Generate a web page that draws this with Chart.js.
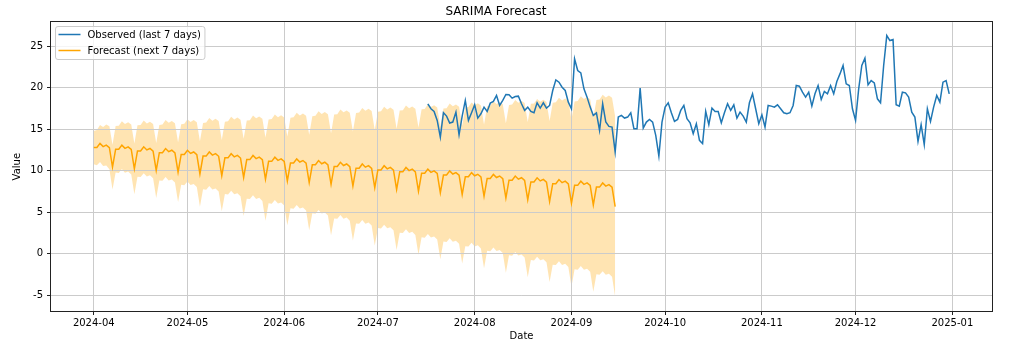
<!DOCTYPE html>
<html><head><meta charset="utf-8">
<script src="https://cdn.jsdelivr.net/npm/chart.js@4.4.1/dist/chart.umd.min.js"></script>
<style>html,body{margin:0;padding:0;background:#fff;}canvas{display:block;}</style>
</head><body>
<canvas id="c" width="1024" height="359"></canvas>
<script>
// ---- data ----
const chartTitle = 'SARIMA Forecast';
const observedLabel = 'Observed (last 7 days)';
const forecastLabel = 'Forecast (next 7 days)';
const observedStart = '2024-07-17';
const forecastStart = '2024-04-01';

const observed = [
18.07,17.47,17.15,16.07,14.06,16.99,16.59,15.75,15.87,17.07,14.34,16.59,18.47,16.07,16.99,17.95,16.35,16.87,17.67,17.15,
18.15,18.35,19.07,17.87,18.47,19.19,19.15,18.75,18.95,18.99,18.07,17.27,17.67,17.15,16.99,18.19,17.55,18.19,17.55,17.87,
19.67,20.95,20.67,20.07,19.67,18.27,17.47,23.48,22.08,21.80,19.87,18.87,17.67,16.67,16.97,14.87,18.07,15.87,15.35,15.27,
12.27,16.47,16.67,16.35,16.47,16.99,15.07,15.07,19.95,15.15,15.87,16.19,15.87,14.27,11.79,15.87,17.67,18.19,16.99,15.95,
16.19,17.27,17.87,16.27,15.79,14.47,15.67,13.67,13.27,17.15,15.55,17.55,17.15,17.15,15.79,16.99,18.07,17.27,17.95,16.35,
17.07,16.59,15.87,18.19,19.27,17.47,15.67,16.75,15.27,17.87,17.79,17.67,17.95,17.47,16.99,16.87,16.99,17.87,20.27,20.19,
19.47,18.87,19.47,17.79,19.27,20.27,18.59,19.55,19.27,20.27,19.27,20.75,21.67,22.68,20.47,20.27,17.47,16.07,19.87,22.68,
23.56,20.35,20.87,20.59,18.67,18.19,22.68,26.28,25.68,25.80,17.95,17.79,19.47,19.39,18.87,17.07,16.47,13.55,15.55,13.15,
17.47,15.95,17.67,19.07,18.27,20.67,20.87,19.27
];

const forecast = [
12.80,12.80,13.30,12.92,13.10,12.78,10.45, 12.59,12.59,13.09,12.71,12.89,12.57,10.24,
12.39,12.39,12.89,12.51,12.69,12.37,10.04, 12.18,12.18,12.68,12.30,12.48,12.16,9.83,
11.97,11.97,12.47,12.09,12.27,11.95,9.62, 11.77,11.77,12.27,11.89,12.07,11.75,9.42,
11.56,11.56,12.06,11.68,11.86,11.54,9.21, 11.35,11.35,11.85,11.47,11.65,11.33,9.00,
11.14,11.14,11.64,11.26,11.44,11.12,8.79, 10.94,10.94,11.44,11.06,11.24,10.92,8.59,
10.73,10.73,11.23,10.85,11.03,10.71,8.38, 10.52,10.52,11.02,10.64,10.82,10.50,8.17,
10.32,10.32,10.82,10.44,10.62,10.30,7.97, 10.11,10.11,10.61,10.23,10.41,10.09,7.76,
9.90,9.90,10.40,10.02,10.20,9.88,7.55, 9.70,9.70,10.20,9.82,10.00,9.68,7.35,
9.49,9.49,9.99,9.61,9.79,9.47,7.14, 9.28,9.28,9.78,9.40,9.58,9.26,6.93,
9.07,9.07,9.57,9.19,9.37,9.05,6.72, 8.87,8.87,9.37,8.99,9.17,8.85,6.52,
8.66,8.66,9.16,8.78,8.96,8.64,6.31, 8.45,8.45,8.95,8.57,8.75,8.43,6.10,
8.25,8.25,8.75,8.37,8.55,8.23,5.90, 8.04,8.04,8.54,8.16,8.34,8.02,5.69
];

const forecastUpper = [
14.80,14.92,15.53,15.27,15.57,15.36,13.15, 15.39,15.43,15.97,15.64,15.86,15.58,13.29,
15.49,15.52,16.06,15.71,15.92,15.64,13.34, 15.53,15.57,16.11,15.78,16.00,15.72,13.43,
15.62,15.67,16.22,15.89,16.12,15.85,13.57, 15.77,15.82,16.37,16.04,16.27,16.00,13.72,
15.91,15.96,16.51,16.18,16.41,16.14,13.86, 16.05,16.10,16.65,16.32,16.55,16.28,14.00,
16.19,16.24,16.79,16.46,16.69,16.42,14.14, 16.39,16.44,16.99,16.66,16.89,16.62,14.34,
16.58,16.63,17.18,16.85,17.08,16.81,14.53, 16.77,16.82,17.37,17.04,17.27,17.00,14.72,
16.97,17.02,17.57,17.24,17.47,17.20,14.92, 17.11,17.16,17.71,17.38,17.61,17.34,15.06,
17.25,17.30,17.85,17.52,17.75,17.48,15.20, 17.40,17.45,18.00,17.67,17.90,17.63,15.35,
17.49,17.54,18.09,17.76,17.99,17.72,15.44, 17.63,17.68,18.23,17.90,18.13,17.86,15.58,
17.77,17.82,18.37,18.04,18.27,18.00,15.72, 17.92,17.97,18.52,18.19,18.42,18.15,15.87,
18.06,18.11,18.66,18.33,18.56,18.29,16.01, 18.20,18.25,18.80,18.47,18.70,18.43,16.15,
18.35,18.41,18.97,18.65,18.88,18.62,16.35, 18.54,18.60,19.16,18.84,19.07,18.81,16.54
];

const forecastLower = [
10.80,10.68,11.07,10.57,10.63,10.20,7.75, 9.79,9.75,10.21,9.78,9.92,9.56,7.19,
9.29,9.26,9.72,9.31,9.46,9.10,6.74, 8.83,8.79,9.25,8.82,8.96,8.60,6.23,
8.32,8.27,8.72,8.29,8.42,8.05,5.67, 7.77,7.72,8.17,7.74,7.87,7.50,5.12,
7.21,7.16,7.61,7.18,7.31,6.94,4.56, 6.65,6.60,7.05,6.62,6.75,6.38,4.00,
6.09,6.04,6.49,6.06,6.19,5.82,3.44, 5.49,5.44,5.89,5.46,5.59,5.22,2.84,
4.88,4.83,5.28,4.85,4.98,4.61,2.23, 4.27,4.22,4.67,4.24,4.37,4.00,1.62,
3.67,3.62,4.07,3.64,3.77,3.40,1.02, 3.11,3.06,3.51,3.08,3.21,2.84,0.46,
2.55,2.50,2.95,2.52,2.65,2.28,-0.10, 2.00,1.95,2.40,1.97,2.10,1.73,-0.65,
1.49,1.44,1.89,1.46,1.59,1.22,-1.16, 0.93,0.88,1.33,0.90,1.03,0.66,-1.72,
0.37,0.32,0.77,0.34,0.47,0.10,-2.28, -0.18,-0.23,0.22,-0.21,-0.08,-0.45,-2.83,
-0.74,-0.79,-0.34,-0.77,-0.64,-1.01,-3.39, -1.30,-1.35,-0.90,-1.33,-1.20,-1.57,-3.95,
-1.85,-1.91,-1.47,-1.91,-1.78,-2.16,-4.55, -2.46,-2.52,-2.08,-2.52,-2.39,-2.77,-5.16
];

const xTickLabels = ['2024-04','2024-05','2024-06','2024-07','2024-08','2024-09','2024-10','2024-11','2024-12','2025-01'];
const yTickValues = [-5, 0, 5, 10, 15, 20, 25];
const xRange = ['2024-03-18', '2025-01-14'];
const yRange = [-6.88, 27.87];

// ---- helpers ----
const DAY = 86400000;
const origin = Date.parse(forecastStart + 'T00:00:00Z');
const dayOf = s => (Date.parse(s + 'T00:00:00Z') - origin) / DAY;
const xTickPos = xTickLabels.map(l => dayOf(l + '-01'));
const series = (arr, start) => arr.map((v, i) => ({x: dayOf(start) + i, y: v}));

const FONT = "'DejaVu Sans', 'Liberation Sans', sans-serif";
Chart.defaults.font.family = FONT;
Chart.defaults.color = '#000';

const gridOverFill = {
  id: 'gridOverFill',
  afterDatasetDraw(chart, args) {
    if (args.index === 2) {
      const ctx = chart.ctx;
      ctx.save();
      chart.scales.x.drawGrid(chart.chartArea);
      chart.scales.y.drawGrid(chart.chartArea);
      ctx.restore();
    }
  }
};

const frameAndLegend = {
  id: 'frameAndLegend',
  afterDraw(chart) {
    const {ctx, chartArea: a} = chart;
    ctx.save();
    // spines
    ctx.strokeStyle = '#222';
    ctx.lineWidth = 1;
    ctx.strokeRect(Math.round(a.left) - 0.5, Math.round(a.top) - 0.5,
                   Math.round(a.right) - Math.round(a.left) + 1, Math.round(a.bottom) - Math.round(a.top) + 1);
    // legend
    const items = [chart.data.datasets[0], chart.data.datasets[1]];
    ctx.font = '10px ' + FONT;
    const tw = Math.max(...items.map(d => ctx.measureText(d.label).width));
    const x0 = Math.round(a.left) + 4.5, y0 = Math.round(a.top) + 4.5;
    const w = 32 + tw + 4, h = 33, r = 2.5;
    ctx.beginPath();
    ctx.moveTo(x0 + r, y0);
    ctx.arcTo(x0 + w, y0, x0 + w, y0 + h, r);
    ctx.arcTo(x0 + w, y0 + h, x0, y0 + h, r);
    ctx.arcTo(x0, y0 + h, x0, y0, r);
    ctx.arcTo(x0, y0, x0 + w, y0, r);
    ctx.closePath();
    ctx.fillStyle = 'rgba(255,255,255,0.8)';
    ctx.fill();
    ctx.strokeStyle = '#cccccc';
    ctx.lineWidth = 1;
    ctx.stroke();
    items.forEach((d, i) => {
      const y = y0 + 8 + i * 16;
      ctx.beginPath();
      ctx.moveTo(x0 + 3, y);
      ctx.lineTo(x0 + 25, y);
      ctx.strokeStyle = d.borderColor;
      ctx.lineWidth = 1.5;
      ctx.stroke();
      ctx.fillStyle = '#000';
      ctx.textBaseline = 'middle';
      ctx.textAlign = 'left';
      ctx.fillText(d.label, x0 + 32, y + 0.5);
    });
    ctx.restore();
  }
};

new Chart(document.getElementById('c'), {
  type: 'line',
  data: {
    datasets: [
      { label: observedLabel, data: series(observed, observedStart), borderColor: '#1f77b4',
        borderWidth: 1.5, pointRadius: 0, fill: false, tension: 0 },
      { label: forecastLabel, data: series(forecast, forecastStart), borderColor: '#ffa500',
        borderWidth: 1.5, pointRadius: 0, fill: false, tension: 0 },
      { label: 'upper', data: series(forecastUpper, forecastStart), borderWidth: 0, borderColor: 'rgba(0,0,0,0)',
        backgroundColor: 'rgba(255,165,0,0.3)', pointRadius: 0, fill: '+1', tension: 0 },
      { label: 'lower', data: series(forecastLower, forecastStart), borderWidth: 0, borderColor: 'rgba(0,0,0,0)',
        pointRadius: 0, fill: false, tension: 0 }
    ]
  },
  options: {
    responsive: false,
    animation: false,
    events: [],
    layout: { padding: { left: 0, right: 32, top: 0, bottom: 0 } },
    plugins: {
      legend: { display: false },
      tooltip: { enabled: false },
      title: { display: true, text: chartTitle, color: '#000',
               font: { size: 12, weight: 'normal', family: FONT }, padding: { top: 5, bottom: 3 } }
    },
    scales: {
      x: {
        type: 'linear',
        min: dayOf(xRange[0]) + 0.3, max: dayOf(xRange[1]) - 0.3,
        afterBuildTicks: s => { s.ticks = xTickPos.map(v => ({value: v})); },
        afterFit: s => { s.height = 48; },
        ticks: { autoSkip: false, maxRotation: 0, padding: 2, color: '#000',
                 font: { size: 10, family: FONT },
                 callback: (v, i) => xTickLabels[i] },
        grid: { color: '#cbcbcb', lineWidth: 1, tickLength: 4, tickColor: '#222', tickWidth: 1 },
        border: { display: false },
        title: { display: true, text: 'Date', color: '#000', font: { size: 10, family: FONT },
                 padding: { top: 0, bottom: 17 } }
      },
      y: {
        min: yRange[0], max: yRange[1],
        afterBuildTicks: s => { s.ticks = yTickValues.map(v => ({value: v})); },
        afterFit: s => { s.width = 51; },
        ticks: { padding: 4, color: '#000', font: { size: 10, family: FONT },
                 callback: v => String(v) },
        grid: { color: '#cbcbcb', lineWidth: 1, tickLength: 4, tickColor: '#222', tickWidth: 1 },
        border: { display: false },
        title: { display: true, text: 'Value', color: '#000', font: { size: 10, family: FONT },
                 padding: { top: 11, bottom: 0 } }
      }
    }
  },
  plugins: [gridOverFill, frameAndLegend]
});
</script>
</body></html>
